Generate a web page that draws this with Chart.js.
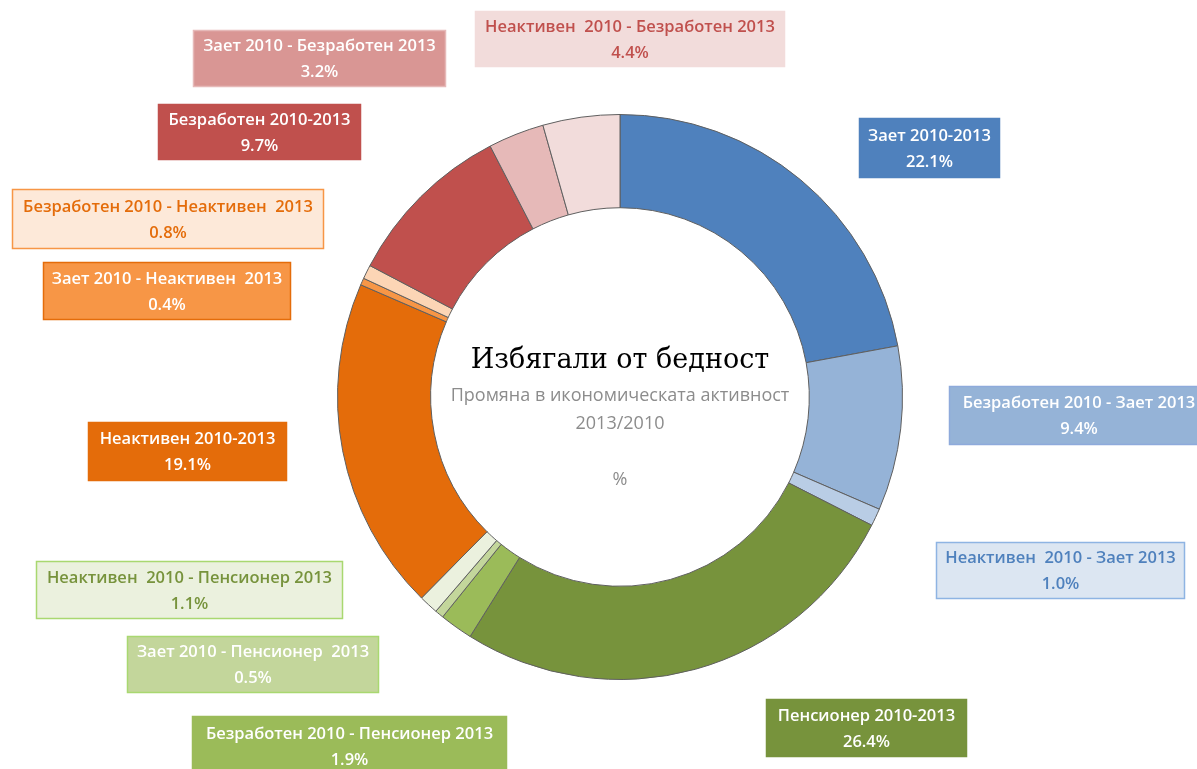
<!DOCTYPE html>
<html>
<head>
<meta charset="utf-8">
<script src="https://cdn.jsdelivr.net/npm/chart.js@4.4.1/dist/chart.umd.min.js"></script>
<style>
  html, body { margin: 0; padding: 0; background: #fff; }
  #wrap { width: 1197px; height: 769px; position: relative; }
</style>
</head>
<body>
<div id="wrap"><canvas id="chart" width="1197" height="769"></canvas></div>
<script>
// clockwise from 12 o'clock
const categories = [
  'Зает 2010-2013',
  'Безработен 2010 - Зает 2013',
  'Неактивен  2010 - Зает 2013',
  'Пенсионер 2010-2013',
  'Безработен 2010 - Пенсионер 2013',
  'Зает 2010 - Пенсионер  2013',
  'Неактивен  2010 - Пенсионер 2013',
  'Неактивен 2010-2013',
  'Зает 2010 - Неактивен  2013',
  'Безработен 2010 - Неактивен  2013',
  'Безработен 2010-2013',
  'Зает 2010 - Безработен 2013',
  'Неактивен  2010 - Безработен 2013'
];
const shares = [22.1, 9.4, 1.0, 26.4, 1.9, 0.5, 1.1, 19.1, 0.4, 0.8, 9.7, 3.2, 4.4];

const sliceColors = ['#4F81BD', '#95B3D7', '#B9CDE5', '#77933C', '#9BBB59', '#C3D69B', '#EBF1DE',
                     '#E46C0A', '#F79646', '#FCD5B5', '#C0504D', '#E6B9B8', '#F2DCDB'];

// label boxes: [x, y, w, h], fill, border, text colour
const boxes = [
  [859, 118, 141, 60], [949, 386, 260, 59], [936, 542, 249, 57], [766, 699, 201, 58],
  [192, 716, 315, 60], [127, 636, 252, 57], [36, 561, 307, 58], [88, 422, 199, 59],
  [43, 262, 248, 58], [12, 189, 312, 60], [158, 104, 203, 56], [193, 30, 253, 57],
  [475, 11, 310, 56]
];
const boxFill = ['#4F81BD', '#95B3D7', '#DCE6F2', '#77933C', '#9BBB59', '#C3D69B', '#EBF1DE',
                 '#E46C0A', '#F79646', '#FDE9D9', '#C0504D', '#D99694', '#F2DCDB'];
const boxLine = ['#4F81BD', '#8EAADB', '#8EB4E3', '#77933C', '#9BBB59', '#A9D870', '#A9D870',
                 '#E46C0A', '#E46C0A', '#F79646', '#C0504D', '#E6B9B8', '#F2DCDB'];
const boxText = ['#fff', '#fff', '#4F81BD', '#fff', '#fff', '#fff', '#77933C',
                 '#fff', '#fff', '#E46C0A', '#fff', '#fff', '#C0504D'];

const titleText = 'Избягали от бедност';
const subText = ['Промяна в икономическата активност', '2013/2010', '', '%'];

const labelBoxes = {
  id: 'labelBoxes',
  afterDatasetsDraw(chart) {
    const ctx = chart.ctx;
    ctx.save();
    ctx.font = '600 16.5px "Open Sans"';
    ctx.textAlign = 'center';
    ctx.textBaseline = 'middle';
    categories.forEach((name, i) => {
      const [x, y, w, h] = boxes[i];
      ctx.fillStyle = boxFill[i];
      ctx.fillRect(x, y, w, h);
      ctx.strokeStyle = boxLine[i];
      ctx.lineWidth = 1.5;
      ctx.strokeRect(x + 0.5, y + 0.5, w - 1, h - 1);
      ctx.fillStyle = boxText[i];
      const cx = x + w / 2;
      ctx.fillText(name, cx, y + h / 2 - 12);
      ctx.fillText(shares[i].toFixed(1) + '%', cx, y + h / 2 + 14);
    });

    // centre text
    const arc = chart.getDatasetMeta(0).data[0];
    const cx = arc.x, cy = arc.y;
    ctx.fillStyle = '#000';
    ctx.font = '27px "DejaVu Serif"';
    ctx.fillText(titleText, cx, cy - 36);
    ctx.fillStyle = '#8C8C8C';
    ctx.font = '18px "Open Sans"';
    subText.forEach((t, k) => ctx.fillText(t, cx, cy - 1 + k * 28));
    ctx.restore();
  }
};

new Chart(document.getElementById('chart'), {
  type: 'doughnut',
  data: {
    labels: categories,
    datasets: [{
      data: shares,
      backgroundColor: sliceColors,
      borderColor: '#5F5F5F',
      borderWidth: 1
    }]
  },
  options: {
    responsive: false,
    animation: false,
    cutout: '67%',
    layout: { padding: { left: 337, right: 294, top: 114, bottom: 89 } },
    plugins: {
      legend: { display: false },
      tooltip: { enabled: false }
    }
  },
  plugins: [labelBoxes]
});
</script>
</body>
</html>
